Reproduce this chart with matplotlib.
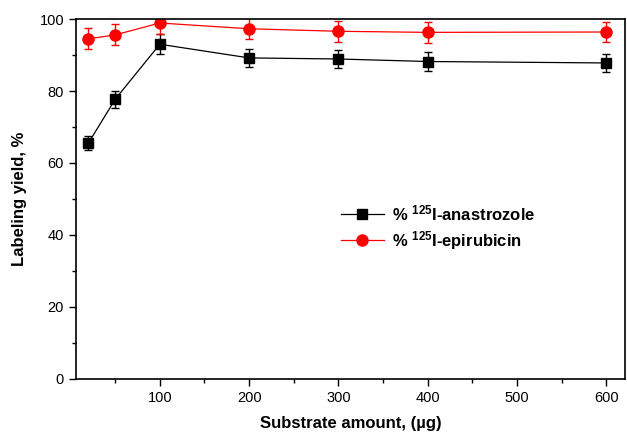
import matplotlib
matplotlib.use('Agg')
import matplotlib.pyplot as plt
from matplotlib.ticker import MultipleLocator

plt.rcParams['font.family'] = ['Liberation Sans', 'DejaVu Sans']
plt.rcParams['mathtext.fontset'] = 'custom'
plt.rcParams['mathtext.rm'] = 'Liberation Sans'
plt.rcParams['mathtext.bf'] = 'Liberation Sans:bold'
plt.rcParams['mathtext.default'] = 'bf'

substrate = [20, 50, 100, 200, 300, 400, 600]
anastrozole = [65.5, 77.7, 93.0, 89.2, 88.9, 88.2, 87.8]
anastrozole_err = [2.0, 2.3, 2.8, 2.6, 2.6, 2.6, 2.6]
epirubicin = [94.5, 95.6, 98.9, 97.3, 96.6, 96.3, 96.4]
epirubicin_err = [2.9, 2.9, 3.0, 2.9, 2.9, 2.9, 2.9]

fig = plt.figure(figsize=(6.27, 4.33), dpi=100)
ax = fig.add_axes([0.121, 0.125, 0.876, 0.831])

# error bars first, then lines with markers (legend shows only lines)
ax.errorbar(substrate, anastrozole, yerr=anastrozole_err, fmt='none', ecolor='black',
            capsize=3, elinewidth=1, capthick=1)
ax.errorbar(substrate, epirubicin, yerr=epirubicin_err, fmt='none', ecolor='red',
            capsize=3, elinewidth=1, capthick=1)
ax.plot(substrate, anastrozole, color='black', lw=0.9, marker='s', ms=7,
        label=r'% $^{125}$I-anastrozole')
ax.plot(substrate, epirubicin, color='red', lw=0.9, marker='o', ms=8,
        label=r'% $^{125}$I-epirubicin')

ax.set_xlim(6, 621)
ax.set_ylim(0, 100)
ax.xaxis.set_major_locator(MultipleLocator(100))
ax.xaxis.set_minor_locator(MultipleLocator(50))
ax.yaxis.set_major_locator(MultipleLocator(20))
ax.yaxis.set_minor_locator(MultipleLocator(10))
ax.tick_params(which='major', direction='out', length=5, width=1, labelsize=10.5)
ax.tick_params(which='minor', direction='out', length=3, width=1)
ax.set_xticks([100, 200, 300, 400, 500, 600])
for s in ax.spines.values():
    s.set_linewidth(1.2)

ax.set_xlabel('Substrate amount, (\u00b5g)', fontsize=12, fontweight='bold', labelpad=8)
ax.set_ylabel('Labeling yield, %', fontsize=12, fontweight='bold', labelpad=9)

leg = ax.legend(loc='upper left', bbox_to_anchor=(0.455, 0.53), frameon=False,
                prop={'weight': 'bold', 'size': 12}, handlelength=2.6,
                handletextpad=0.5, labelspacing=0.35)

fig.savefig('out.png', dpi=100)
